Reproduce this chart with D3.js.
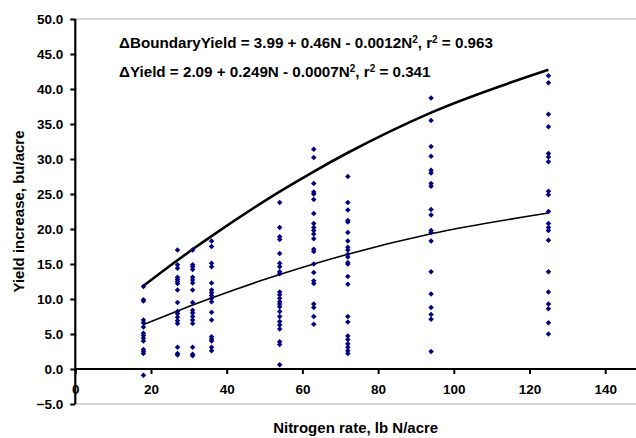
<!DOCTYPE html>
<html>
<head>
<meta charset="utf-8">
<script src="https://cdn.jsdelivr.net/npm/d3@7"></script>
<style>
  body { margin: 0; background: #fff; }
  svg { font-family: "Liberation Sans", Arial, sans-serif; font-weight: bold; }
</style>
</head>
<body>
<svg id="chart" width="636" height="438"></svg>
<script>
// nitrogen rates (lb N/acre) and the observed yield increases at each rate
const rates = [18, 27, 31, 36, 54, 63, 72, 94, 125];
const obs18 = [11.8, 9.9, 9.7, 7.0, 6.6, 6.0, 5.1, 4.8, 4.4, 4.0, 2.8, 2.5, 2.2, -0.9];
const obs27 = [17.0, 14.9, 14.4, 13.1, 12.8, 12.5, 12.2, 11.3, 9.5, 8.2, 7.9, 7.4, 6.9, 6.5, 3.1, 2.2, 2.0];
const obs31 = [17.0, 14.9, 14.6, 14.2, 13.1, 12.7, 12.3, 11.3, 9.5, 8.4, 8.0, 7.5, 7.0, 6.5, 3.1, 2.1, 1.9];
const obs36 = [18.3, 17.5, 15.1, 14.6, 12.3, 11.3, 10.9, 10.5, 10.1, 9.6, 8.1, 7.0, 4.6, 4.3, 4.0, 3.1, 2.6];
const obs54 = [23.8, 20.2, 18.9, 18.5, 16.5, 15.1, 14.6, 13.9, 13.6, 11.0, 10.6, 10.1, 9.6, 9.3, 8.9, 8.2, 7.5, 6.8, 6.3, 5.7, 3.9, 3.5, 0.6];
const obs63 = [31.4, 30.2, 26.5, 25.3, 25.0, 24.2, 22.2, 20.8, 20.2, 19.8, 19.3, 18.6, 17.1, 16.8, 15.0, 13.8, 12.6, 12.2, 9.3, 8.8, 7.5, 6.4];
const obs72 = [27.5, 23.8, 22.7, 21.2, 21.0, 19.5, 18.3, 17.4, 17.0, 16.4, 16.0, 15.2, 15.0, 13.2, 12.1, 7.5, 6.7, 4.7, 4.2, 3.6, 3.1, 2.6, 2.2];
const obs94 = [38.7, 35.5, 31.8, 30.4, 28.4, 28.0, 26.5, 26.1, 22.8, 22.0, 19.8, 19.5, 18.3, 13.9, 10.7, 8.8, 7.8, 7.1, 2.5];
const obs125 = [41.9, 40.9, 36.4, 34.6, 30.8, 30.3, 29.6, 25.4, 24.9, 22.5, 20.8, 20.2, 19.8, 18.4, 13.9, 11.0, 9.3, 8.6, 6.6, 5.0];
const observed = [obs18, obs27, obs31, obs36, obs54, obs63, obs72, obs94, obs125];

// fitted curves at each rate
const boundaryFit = [11.88, 15.54, 17.10, 18.99, 25.33, 28.21, 30.89, 36.63, 42.74];
const yieldFit = [6.35, 8.30, 9.14, 10.15, 13.50, 15.00, 16.39, 19.31, 22.28];

const xTicks = [0, 20, 40, 60, 80, 100, 120, 140];
const yTicks = [-5, 0, 5, 10, 15, 20, 25, 30, 35, 40, 45, 50];

const svg = d3.select("#chart");
const plotLeft = 75.3, plotTop = 19, plotBottom = 404, plotRight = 636;

const x = d3.scaleLinear().domain([0, 140]).range([plotLeft, 605.2]);
const y = d3.scaleLinear().domain([-5, 50]).range([plotBottom, plotTop]);

// plot area border (top and bottom)
svg.append("line")
  .attr("x1", plotLeft).attr("x2", plotRight).attr("y1", plotTop).attr("y2", plotTop)
  .attr("stroke", "#c8c8c8").attr("stroke-width", 1.5);
svg.append("line")
  .attr("x1", plotLeft).attr("x2", plotRight).attr("y1", plotBottom).attr("y2", plotBottom)
  .attr("stroke", "#c8c8c8").attr("stroke-width", 1.5);

// y axis
const yAxis = svg.append("g")
  .attr("transform", "translate(" + plotLeft + ",0)")
  .call(d3.axisLeft(y).tickValues(yTicks).tickFormat(d3.format(".1f")).tickSize(5).tickPadding(7));
yAxis.select(".domain").attr("stroke", "#000").attr("stroke-width", 2.2)
  .attr("d", "M0," + plotTop + "V" + plotBottom);
yAxis.selectAll(".tick line").attr("stroke", "#000").attr("stroke-width", 2);
yAxis.selectAll("text").attr("font-size", 13.5).attr("font-weight", "bold").attr("fill", "#000")
  .attr("font-family", "Liberation Sans, Arial, sans-serif");

// x axis crossing at 0
const xAxis = svg.append("g")
  .attr("transform", "translate(0," + y(0) + ")")
  .call(d3.axisBottom(x).tickValues(xTicks).tickFormat(d3.format("d")).tickSize(5).tickPadding(10));
xAxis.select(".domain").attr("stroke", "#000").attr("stroke-width", 2.2)
  .attr("d", "M" + plotLeft + ",0H" + plotRight);
xAxis.selectAll(".tick line").attr("stroke", "#000").attr("stroke-width", 2);
xAxis.selectAll("text").attr("font-size", 13.5).attr("font-weight", "bold").attr("fill", "#000")
  .attr("font-family", "Liberation Sans, Arial, sans-serif");

// fitted lines
const pts = (fit) => rates.map((r, i) => [r, fit[i]]);
const line = d3.line().x(d => x(d[0])).y(d => y(d[1])).curve(d3.curveMonotoneX);
svg.append("path").attr("d", line(pts(yieldFit)))
  .attr("fill", "none").attr("stroke", "#000").attr("stroke-width", 1.6);
svg.append("path").attr("d", line(pts(boundaryFit)))
  .attr("fill", "none").attr("stroke", "#000").attr("stroke-width", 2.6);

// observations
const points = [];
rates.forEach((r, i) => observed[i].forEach(v => points.push([r, v])));
const diamond = d3.symbol(d3.symbolSquare, 15);
svg.append("g").selectAll("path")
  .data(points)
  .enter()
  .append("path")
    .attr("d", diamond)
    .attr("transform", d => "translate(" + x(d[0]) + "," + y(d[1]) + ") rotate(45)")
    .attr("fill", "#000080");

// equations
const eq = (yy, parts) => {
  const t = svg.append("text").attr("x", 119).attr("y", yy).attr("font-size", 15.2);
  parts.forEach(p => {
    const s = t.append("tspan").text(p[0]);
    if (p[1]) s.attr("font-size", 10).attr("baseline-shift", "super");
  });
};
eq(48, [["\u0394BoundaryYield = 3.99 + 0.46N - 0.0012N"], ["2", true], [", r"], ["2", true], [" = 0.963"]]);
eq(77, [["\u0394Yield = 2.09 + 0.249N - 0.0007N"], ["2", true], [", r"], ["2", true], [" = 0.341"]]);

// axis titles
svg.append("text")
  .attr("transform", "translate(24," + ((plotTop + plotBottom) / 2) + ") rotate(-90)")
  .attr("text-anchor", "middle").attr("font-size", 15)
  .text("Yield increase, bu/acre");
svg.append("text")
  .attr("x", (plotLeft + plotRight) / 2).attr("y", 433)
  .attr("text-anchor", "middle").attr("font-size", 15)
  .text("Nitrogen rate, lb N/acre");
</script>
</body>
</html>
